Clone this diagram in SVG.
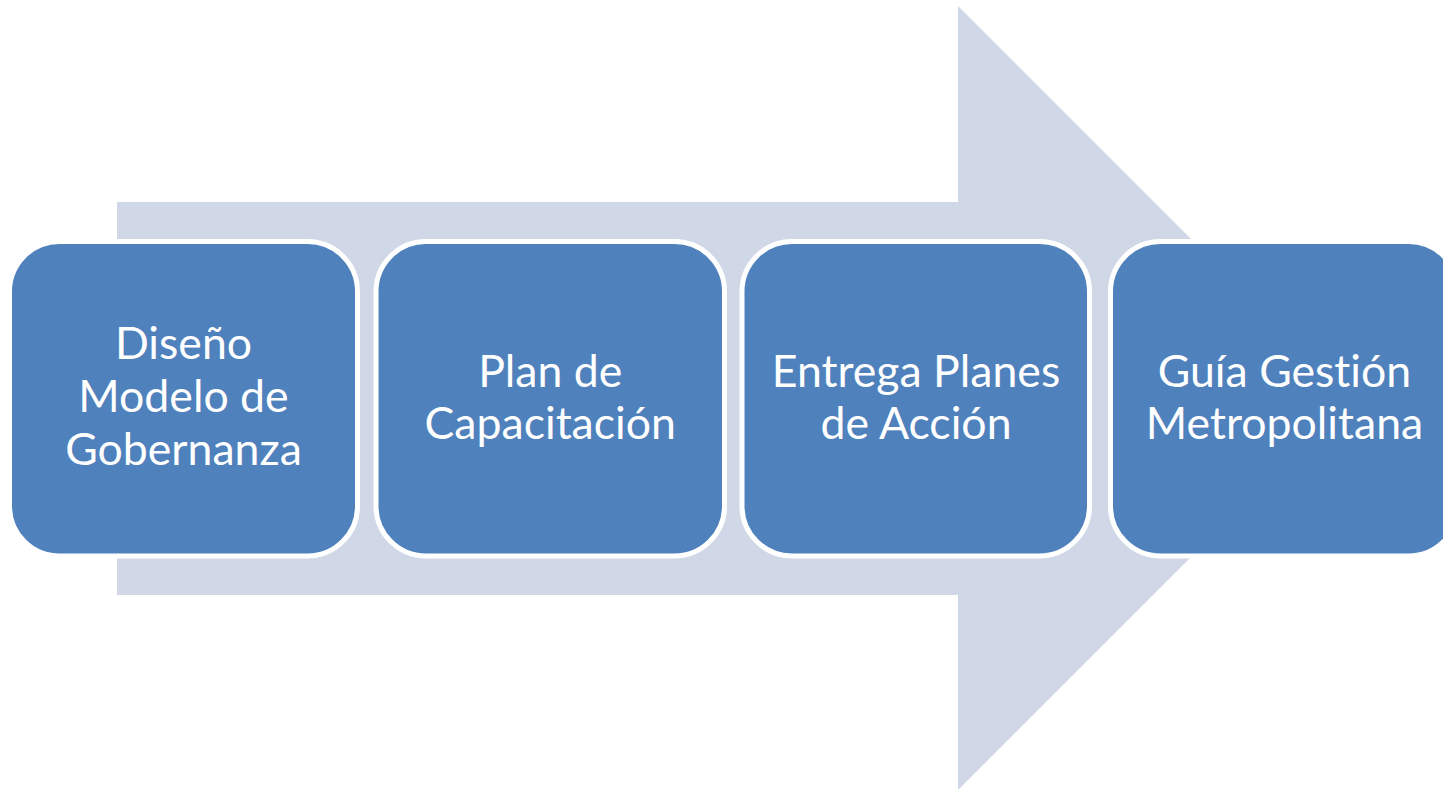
<svg xmlns="http://www.w3.org/2000/svg" width="1443" height="789" viewBox="0 0 1443 789">
  <style>
    .box { fill: #4F81BD; stroke: #FFFFFF; stroke-width: 5; }
    .lbl { fill: #FFFFFF; font-family: Lato, "Open Sans", "Liberation Sans", sans-serif; font-size: 44.6px; text-anchor: middle; font-variant-ligatures: none; font-feature-settings: "liga" 0, "dlig" 0; }
  </style>
  <rect width="1443" height="789" fill="#FFFFFF"/>
  <g id="connectors">
    <path id="arrow" d="M117,202 H958 V6 L1350,398 L958,790 V595 H117 Z" fill="#D0D8E8"/>
  </g>
  <g id="node1">
    <rect class="box" x="9.5" y="241.5" width="348" height="314.5" rx="50" ry="50"/>
    <text class="lbl" x="183.5" y="359">Diseño</text>
    <text class="lbl" x="183.5" y="412">Modelo de</text>
    <text class="lbl" x="183.5" y="465">Gobernanza</text>
  </g>
  <g id="node2">
    <rect class="box" x="376" y="241.5" width="348.5" height="314.5" rx="50" ry="50"/>
    <text class="lbl" x="550.25" y="387">Plan de</text>
    <text class="lbl" x="550.25" y="439">Capacitación</text>
  </g>
  <g id="node3">
    <rect class="box" x="742" y="241.5" width="347.5" height="314.5" rx="50" ry="50"/>
    <text class="lbl" x="916" y="387">Entrega Planes</text>
    <text class="lbl" x="916" y="439">de Acción</text>
  </g>
  <g id="node4">
    <rect class="box" x="1110.5" y="241.5" width="348" height="314.5" rx="50" ry="50"/>
    <text class="lbl" x="1284.5" y="387">Guía Gestión</text>
    <text class="lbl" x="1284.5" y="439">Metropolitana</text>
  </g>
</svg>
